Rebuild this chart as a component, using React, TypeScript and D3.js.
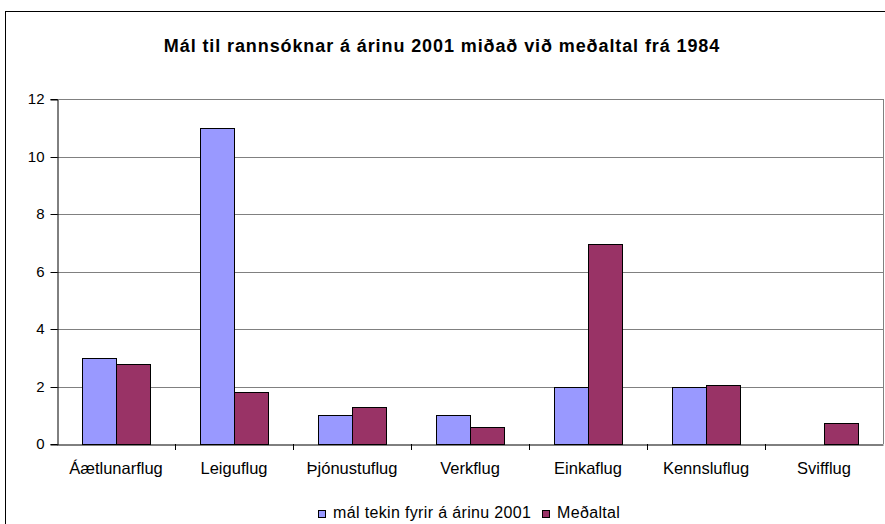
import React, { useEffect, useRef } from "react";
import * as d3 from "d3";

const categories = [
  "Áætlunarflug",
  "Leiguflug",
  "Þjónustuflug",
  "Verkflug",
  "Einkaflug",
  "Kennsluflug",
  "Svifflug",
];
const seriesNames = ["mál tekin fyrir á árinu 2001", "Meðaltal"];
const cases2001 = [3, 11, 1, 1, 2, 2, 0];
const average = [2.78, 1.82, 1.27, 0.59, 6.94, 2.05, 0.73];
const yTicks = [0, 2, 4, 6, 8, 10, 12];
const colors = ["#9999FF", "#993366"];

const W = 885;
const H = 524;

const App: React.FC = () => {
  const svgRef = useRef<SVGSVGElement | null>(null);

  useEffect(() => {
    if (!svgRef.current) return;
    const svg = d3.select(svgRef.current);
    svg.selectAll("*").remove();

    const font = "'Liberation Sans', Arial, sans-serif";
    const left = 57;
    const right = 883;
    const top = 99;
    const bottom = 444;

    // outer chart border
    svg
      .append("rect")
      .attr("x", 5.5)
      .attr("y", 11.5)
      .attr("width", W + 10)
      .attr("height", H + 10)
      .attr("fill", "white")
      .attr("stroke", "black");

    svg
      .append("text")
      .attr("x", 442)
      .attr("y", 52)
      .attr("text-anchor", "middle")
      .style("font-family", font)
      .style("font-size", "18px")
      .style("letter-spacing", "0.9px")
      .style("font-weight", "bold")
      .text("Mál til rannsóknar á árinu 2001 miðað við meðaltal frá 1984");

    const x0 = d3.scaleBand().domain(categories).range([left, right]);
    const x1 = d3
      .scaleBand()
      .domain(seriesNames)
      .range([0, x0.bandwidth()])
      .paddingOuter(0.735)
      .paddingInner(0);
    const y = d3.scaleLinear().domain([0, 12]).range([bottom, top]);

    // gridlines
    svg
      .append("g")
      .selectAll("line")
      .data(yTicks.filter((t) => t > 0))
      .enter()
      .append("line")
      .attr("x1", left)
      .attr("x2", right)
      .attr("y1", (d) => Math.round(y(d)) + 0.5)
      .attr("y2", (d) => Math.round(y(d)) + 0.5)
      .attr("stroke", "#808080");

    // right edge of plot
    svg
      .append("line")
      .attr("x1", right + 0.5)
      .attr("x2", right + 0.5)
      .attr("y1", top)
      .attr("y2", bottom)
      .attr("stroke", "#808080");

    const data = [cases2001, average];
    categories.forEach((c, i) => {
      seriesNames.forEach((s, j) => {
        const v = data[j][i];
        if (v <= 0) return;
        const bx = Math.round((x0(c) || 0) + (x1(s) || 0));
        svg
          .append("rect")
          .attr("x", bx + 0.5)
          .attr("y", Math.round(y(v)) + 0.5)
          .attr("width", Math.round(x1.bandwidth()))
          .attr("height", Math.round(y(0)) - Math.round(y(v)))
          .attr("fill", colors[j])
          .attr("stroke", "black");
      });
    });

    // y axis
    const yAxis = svg
      .append("g")
      .attr("transform", `translate(${left + 0.5},0.5)`)
      .call(
        d3
          .axisLeft(y)
          .tickValues(yTicks)
          .tickSize(7)
          .tickPadding(6)
          .tickFormat((d) => String(d))
      );
    yAxis.select(".domain").attr("stroke", "black");
    yAxis.selectAll(".tick").attr("transform", (d: any) => `translate(0,${Math.round(y(d))})`);
    yAxis
      .selectAll("text")
      .attr("fill", "black")
      .style("font-family", font)
      .style("font-size", "15px");

    // x axis
    const xAxis = svg
      .append("g")
      .attr("transform", `translate(0,${bottom + 0.5})`)
      .call(d3.axisBottom(x0).tickSize(0).tickPadding(29));
    xAxis.select(".domain").attr("stroke", "black");
    xAxis
      .selectAll("text")
      .attr("fill", "black")
      .attr("dy", "0")
      .style("font-family", font)
      .style("font-size", "16.5px");
    // category boundary ticks
    svg
      .append("g")
      .selectAll("line")
      .data(categories.slice(1))
      .enter()
      .append("line")
      .attr("x1", (d) => Math.round(x0(d) || 0) + 0.5)
      .attr("x2", (d) => Math.round(x0(d) || 0) + 0.5)
      .attr("y1", bottom)
      .attr("y2", bottom + 6)
      .attr("stroke", "black");

    // legend
    const legend = svg.append("g").attr("transform", "translate(318,510)");
    const legendX = [0, 224];
    seriesNames.forEach((s, j) => {
      const g = legend.append("g").attr("transform", `translate(${legendX[j]},0)`);
      g.append("rect")
        .attr("x", 0.5)
        .attr("y", 0.5)
        .attr("width", 7)
        .attr("height", 7)
        .attr("fill", colors[j])
        .attr("stroke", "black");
      g.append("text")
        .attr("x", 15)
        .attr("y", 8)
        .style("font-family", font)
        .style("font-size", "16px")
        .style("letter-spacing", "0.35px")
        .text(s);
    });
  }, []);

  return (
    <svg
      ref={svgRef}
      width={W}
      height={H}
      style={{ position: "absolute", left: 0, top: 0, display: "block" }}
    ></svg>
  );
};

export default App;
